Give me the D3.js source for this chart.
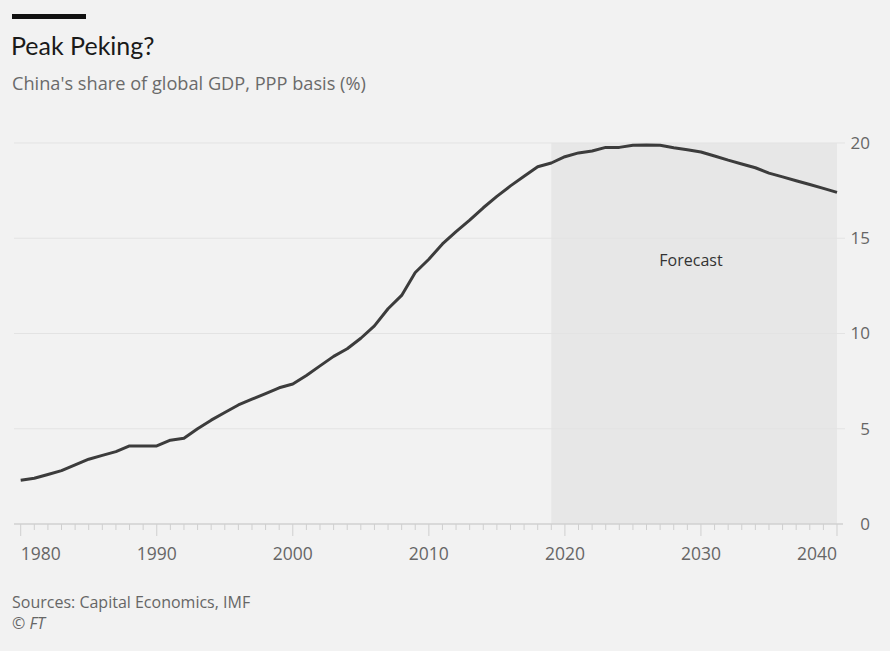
<!DOCTYPE html>
<html><head><meta charset="utf-8">
<script src="https://cdn.jsdelivr.net/npm/d3@7"></script>
<style>
html,body{margin:0;padding:0;background:#f2f2f2;}
svg{display:block;font-family:"Open Sans",Lato,sans-serif;}
</style></head><body>
<svg id="c" width="890" height="651"></svg>
<script>
const years = d3.range(1980, 2041);
const shares = [
 2.3, 2.4, 2.6, 2.8, 3.1, 3.4, 3.6, 3.8, 4.1, 4.1,
 4.1, 4.4, 4.5, 5.0, 5.45, 5.85, 6.25, 6.55, 6.85, 7.15,
 7.35, 7.8, 8.3, 8.8, 9.2, 9.75, 10.4, 11.3, 12.0, 13.2,
 13.9, 14.7, 15.35, 15.95, 16.6, 17.2, 17.75, 18.25, 18.75, 18.95,
 19.28, 19.48, 19.58, 19.77, 19.77, 19.88, 19.9, 19.88, 19.75, 19.65,
 19.53, 19.32, 19.1, 18.9, 18.7, 18.42, 18.22, 18.02, 17.82, 17.62,
 17.41
];
const forecastRange = [2019, 2040];
const yTicks = [0, 5, 10, 15, 20];
const xTicks = [1980, 1990, 2000, 2010, 2020, 2030, 2040];
const title = "Peak Peking?";
const subtitle = "China's share of global GDP, PPP basis (%)";
const source = "Sources: Capital Economics, IMF";
const credit = "© FT";

const svg = d3.select("#c");
const x = d3.scaleLinear().domain([1980, 2040]).range([20.7, 837]);
const y = d3.scaleLinear().domain([0, 20]).range([524, 143]);

svg.append("rect").attr("width", 890).attr("height", 651).attr("fill", "#f2f2f2");
svg.append("rect").attr("x", 12).attr("y", 14).attr("width", 74).attr("height", 5).attr("fill", "#111");
svg.append("text").attr("x", 11).attr("y", 55).attr("font-family", "Lato, sans-serif")
  .attr("font-size", 25).attr("fill", "#1a1a1a").text(title);
svg.append("text").attr("x", 12).attr("y", 90).attr("font-size", 18.2).attr("fill", "#6a6a6a").text(subtitle);

// forecast shading
svg.append("rect")
  .attr("x", x(forecastRange[0])).attr("y", y(20))
  .attr("width", x(forecastRange[1]) - x(forecastRange[0]))
  .attr("height", y(0) - y(20)).attr("fill", "#e7e7e7");

// gridlines
svg.append("g").selectAll("line").data(yTicks.filter(d => d > 0)).join("line")
  .attr("x1", 14).attr("x2", 845)
  .attr("y1", d => y(d)).attr("y2", d => y(d))
  .attr("stroke", "#e3e3e3").attr("stroke-width", 1);

// y labels
svg.append("g").selectAll("text").data(yTicks).join("text")
  .attr("x", 870).attr("y", d => y(d)).attr("dy", "0.35em")
  .attr("text-anchor", "end").attr("font-size", 17).attr("fill", "#666")
  .text(d => d);

// x axis
const xAxis = svg.append("g").attr("transform", `translate(0,${y(0)})`);
xAxis.append("line").attr("x1", 14).attr("x2", 843).attr("stroke", "#d0d0d0").attr("stroke-width", 1.5);
xAxis.selectAll("line.minor").data(d3.range(1980, 2041)).join("line").attr("class", "minor")
  .attr("x1", d => x(d)).attr("x2", d => x(d))
  .attr("y1", 0).attr("y2", d => d % 10 === 0 ? 12 : 6)
  .attr("stroke", "#cfcfcf").attr("stroke-width", 1);
xAxis.selectAll("text").data(xTicks).join("text")
  .attr("x", d => x(d)).attr("y", 36)
  .attr("text-anchor", d => d === 1980 ? "start" : d === 2040 ? "end" : "middle")
  .attr("font-size", 17.5).attr("fill", "#666")
  .text(d => d);

// forecast label
svg.append("text").attr("x", 691).attr("y", 266).attr("text-anchor", "middle")
  .attr("font-size", 16).attr("fill", "#333").text("Forecast");

// line
const line = d3.line().x((d, i) => x(years[i])).y(d => y(d));
svg.append("path").datum(shares).attr("d", line)
  .attr("fill", "none").attr("stroke", "#3c3c3c").attr("stroke-width", 3)
  .attr("stroke-linejoin", "round").attr("stroke-linecap", "butt");

svg.append("text").attr("x", 12).attr("y", 608).attr("font-size", 16).attr("fill", "#666").text(source);
svg.append("text").attr("x", 12).attr("y", 629).attr("font-size", 16).attr("font-style", "italic").attr("fill", "#666").text(credit);
</script>
</body></html>
